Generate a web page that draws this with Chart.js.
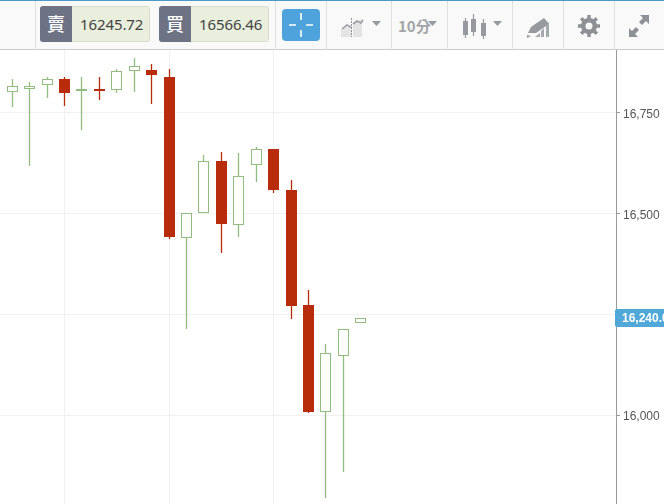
<!DOCTYPE html>
<html lang="zh-Hant">
<head>
<meta charset="utf-8">
<script src="https://cdn.jsdelivr.net/npm/chart.js@4"></script>
<style>
html,body{margin:0;padding:0;background:#fff;overflow:hidden;width:664px;height:504px}
#wrap{position:relative;width:664px;height:504px;overflow:hidden}
canvas{position:absolute;left:0;top:0}
#bar{position:absolute;left:0;top:0;width:664px;background:#f9f9f9;border-top:1px solid #4a9bc9;border-bottom:1px solid #ccc;box-sizing:content-box;height:48px}
.div{position:absolute;top:0;width:1px;height:49px;background:#e0e0e0}
.quote{position:absolute;top:5px;height:36px;width:110px;border-radius:3px;background:#e9eedd;border:1px solid #d8dccb;box-sizing:border-box;font:15px "Noto Sans",sans-serif;color:#444;line-height:34px}
.quote b{position:absolute;left:-1px;top:-1px;width:32px;height:36px;background:#6d7284;color:#fff;border-radius:3px 0 0 3px;font:500 18px/35px "Noto Sans CJK TC",sans-serif;text-align:center}
.quote span{position:absolute;left:39px;top:0;letter-spacing:-.1px}
#cross{position:absolute;left:282px;top:8px;width:38px;height:32px;background:#4ea3dc;border-radius:4px}
.t{position:absolute;font:700 15px "Noto Sans CJK TC",sans-serif;color:#a3a5a8}
svg{position:absolute;left:0;top:0}
</style>
</head>
<body>
<div id="wrap">
<canvas id="c" width="664" height="504"></canvas>
<div id="bar">
<i class="div" style="left:35px"></i><i class="div" style="left:275px"></i><i class="div" style="left:326px"></i>
<i class="div" style="left:391px"></i><i class="div" style="left:447px"></i><i class="div" style="left:512px"></i>
<i class="div" style="left:563px"></i><i class="div" style="left:614px"></i>
<div class="quote" style="left:40px"><b>賣</b><span id="q1"></span></div>
<div class="quote" style="left:159px"><b>買</b><span id="q2"></span></div>
<div id="cross"></div>
<div class="t" style="left:398px;top:14px">10分</div>
</div>
<svg width="664" height="50" viewBox="0 0 664 50">
<g stroke="#fff" stroke-width="1.6"><path d="M289 25h7M306 25h7M301 13v7M301 30v7"/></g>
<path d="M341 37V30l5-4 6 4v7z" fill="#e4e4e4"/><path d="M353 37V24l9-5v18z" fill="#e4e4e4"/>
<path d="M342 29l5-4 5 3M353 24l4-3 4 2 2-3" fill="none" stroke="#9a9da1" stroke-width="1.6"/>
<path d="M351.500 18v19" stroke="#8f9296" stroke-dasharray="2 1"/>
<g fill="#96999e"><path d="M372 21h9l-4.500 5zM428 21h9l-4.500 5zM493 21h9l-4.500 5z"/>
<rect x="463" y="21" width="5" height="14"/><rect x="471" y="19" width="5" height="13"/><rect x="481" y="23" width="5" height="13"/></g>
<g stroke="#96999e" stroke-width="1.200"><path d="M465.500 18v20M473.500 14v22M483.500 19v20"/></g>
<path d="M528 33l3-6 13-9 5 6-13 9zM527 35l4 1-4 2z" fill="#96999e"/>
<path d="M535 37l5-4v4zM541 37v-6l3-3v9zM546 37V25l3-3v15z" fill="#a5a8ac"/>
<g fill="#8d9095"><circle cx="589" cy="26" r="8"/><g stroke="#8d9095" stroke-width="3.500"><path d="M589 15v22M578 26h22M581.200 18.200l15.600 15.600M596.800 18.200l-15.600 15.600"/></g></g>
<circle cx="589" cy="26" r="3.500" fill="#f9f9f9"/>
<g fill="#8d9095"><path d="M640 15h9v9l-3-3-4 4-3-3 4-4zM638 37h-9v-9l3 3 4-4 3 3-4 4z"/></g>
</svg>
</div>
<script>
const sellQuote = "16245.72";
const buyQuote = "16566.46";
const lastPriceLabel = "16,240.0";
const lastPrice = 16240;
const indices = [0,1,2,3,4,5,6,7,8,9,10,11,12,13,14,15,16,17,18,19,20];
const opens  = [16799,16808,16817,16832,16802,16808,16806,16851,16855,16837,16438,16500,16629,16470,16619,16659,16558,16273,16007,16146,16228];
const closes = [16814,16815,16832,16798,16808,16803,16851,16864,16841,16440,16500,16629,16474,16592,16658,16558,16271,16009,16153,16213,16240];
const highs  = [16832,16824,16837,16837,16836,16836,16856,16883,16870,16856,16500,16644,16651,16648,16663,16659,16582,16310,16176,16213,16240];
const lows   = [16764,16617,16786,16766,16706,16781,16797,16800,16771,16437,16214,16500,16402,16442,16577,16551,16237,16006,15796,15858,16228];
const priceTicks = [16000,16250,16500,16750];
const timeGrid = [3,9,15];

document.getElementById('q1').textContent = sellQuote;
document.getElementById('q2').textContent = buyQuote;

const UP = '#93bd80', DOWN = '#b82c0c';
const isUp = indices.map(i => closes[i] >= opens[i]);

const snapBars = {
  id:'snapBars',
  afterDatasetsUpdate(chart){
    chart.data.datasets.forEach((d,k)=>{
      chart.getDatasetMeta(k).data.forEach(el=>{
        el.x = Math.floor(el.x)+0.5;
        el.y = Math.round(el.y);
        el.base = Math.round(el.base);
      });
    });
  }
};

const priceTag = {
  id:'priceTag',
  afterDraw(chart){
    const c = chart.ctx, y = chart.scales.y.getPixelForValue(lastPrice);
    c.save();
    c.fillStyle = '#4fa8d8';
    c.beginPath();
    c.roundRect(615, Math.round(y)-9, 60, 18, 2);
    c.fill();
    c.fillStyle = '#fff';
    c.font = 'bold 12px "Liberation Sans", sans-serif';
    c.textBaseline = 'middle';
    c.textAlign = 'left';
    c.fillText(lastPriceLabel, 622, y+0.5);
    c.restore();
  }
};

function noPad(a){a.paddingTop=0;a.paddingBottom=0;a.paddingLeft=0;a.paddingRight=0;}

new Chart(document.getElementById('c'), {
  type:'bar',
  data:{datasets:[
    {label:'body', data:indices.map(i=>({x:i,y:[opens[i],closes[i]]})),
     backgroundColor:indices.map(i=>isUp[i]?'#fff':DOWN),
     borderColor:indices.map(i=>isUp[i]?UP:DOWN),
     borderWidth:1, borderSkipped:false, barThickness:11, grouped:false, inflateAmount:0},
    {label:'wick', data:indices.map(i=>({x:i,y:[lows[i],highs[i]]})),
     backgroundColor:indices.map(i=>isUp[i]?UP:DOWN),
     borderWidth:0, barThickness:1.3, grouped:false, inflateAmount:0}
  ]},
  options:{
    responsive:false, animation:false, devicePixelRatio:1,
    layout:{padding:{top:50,left:0,right:0,bottom:0}},
    plugins:{legend:{display:false},tooltip:{enabled:false}},
    scales:{
      x:{type:'linear', min:-0.706, max:34.655, offset:false,
         afterBuildTicks(a){a.ticks = timeGrid.map(v=>({value:v}));},
         afterFit(a){a.height=0;noPad(a);},
         ticks:{display:false},
         border:{display:false},
         grid:{color:'#f1f1f1',drawTicks:false,offset:false}},
      y:{position:'right', min:15780, max:16904,
         afterBuildTicks(a){a.ticks = priceTicks.map(v=>({value:v}));},
         afterFit(a){a.width=48;noPad(a);},
         ticks:{padding:3,color:'#555',font:{family:'"Liberation Sans",sans-serif',size:12,lineHeight:0.34},
                callback:v=>['',v.toLocaleString('en-US')]},
         border:{color:'#999',width:1},
         grid:{color:'#f1f1f1',tickColor:'#999',tickLength:4}}
    }
  },
  plugins:[snapBars,priceTag]
});
</script>
</body>
</html>
